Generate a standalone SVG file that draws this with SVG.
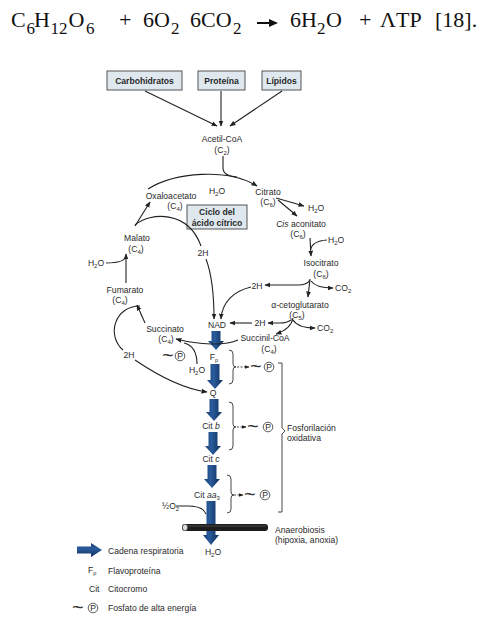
<svg xmlns="http://www.w3.org/2000/svg" width="500" height="637" viewBox="0 0 500 637">
<style>
.eq{font-family:"Liberation Serif",serif;font-size:22px;fill:#111}
.t{font-family:"Liberation Sans",Arial,sans-serif;font-size:8.6px;fill:#2a2a2a}
.m{text-anchor:middle}
.b{font-weight:bold}
.tl{font-family:"Liberation Sans",Arial,sans-serif;font-size:20px;fill:#333}
.box{fill:#dfe8ef;stroke:#555;stroke-width:1}
.c{fill:none;stroke:#222;stroke-width:1.1}
.br{fill:none;stroke:#333;stroke-width:0.9}
.ds{fill:none;stroke:#333;stroke-width:0.9;stroke-dasharray:2,1.5}
.pc{fill:none;stroke:#333;stroke-width:0.8}
.ba{fill:url(#bg)}
</style>
<defs>
<marker id="ah" viewBox="0 0 10 10" refX="9" refY="5" markerWidth="5.5" markerHeight="5.5" orient="auto">
<path d="M0,1 L10,5 L0,9 z" fill="#222"/>
</marker>
<linearGradient id="bg" x1="0" y1="0" x2="1" y2="0">
<stop offset="0" stop-color="#173f78"/>
<stop offset="0.4" stop-color="#2a5c9c"/>
<stop offset="1" stop-color="#0f2d5c"/>
</linearGradient>
<linearGradient id="bgv" x1="0" y1="0" x2="0" y2="1">
<stop offset="0" stop-color="#173f78"/>
<stop offset="0.4" stop-color="#2a5c9c"/>
<stop offset="1" stop-color="#0f2d5c"/>
</linearGradient>
</defs>
<rect width="500" height="637" fill="#fff"/>

<g id="equation">
<text class="eq" y="27"><tspan x="11">C</tspan><tspan x="26.5" y="34" font-size="17">6</tspan><tspan x="34" y="27">H</tspan><tspan x="50.5" y="34" font-size="17">12</tspan><tspan x="68.5" y="27">O</tspan><tspan x="86" y="34" font-size="17">6</tspan><tspan x="119" y="27">+</tspan><tspan x="143">6O</tspan><tspan x="171" y="34" font-size="17">2</tspan><tspan x="190" y="27">6CO</tspan><tspan x="233" y="34" font-size="17">2</tspan><tspan x="290" y="27">6H</tspan><tspan x="317" y="34" font-size="17">2</tspan><tspan x="326" y="27">O</tspan><tspan x="359">+</tspan><tspan x="380">ΛTP</tspan><tspan x="435">[18].</tspan></text>
<path d="M257,23 L271,23" stroke="#111" stroke-width="2"/>
<path d="M269,19 L278,23 L269,27 z" fill="#111"/>
</g>

<g id="carbohidratos"><rect class="box" x="107" y="71" width="75" height="19"/><text class="t b m" x="144.5" y="83.5">Carbohidratos</text></g>
<g id="proteina"><rect class="box" x="198" y="71" width="47" height="19"/><text class="t b m" x="221.5" y="83.5">Proteína</text></g>
<g id="lipidos"><rect class="box" x="262" y="71" width="39" height="19"/><text class="t b m" x="281.5" y="83.5">Lípidos</text></g>

<g id="acetilcoa"><text class="t m" x="222" y="142">Acetil-CoA</text><text class="t m" x="222" y="153">(C<tspan font-size="6" dy="2">2</tspan><tspan dy="-2">)</tspan></text></g>
<g id="ciclo"><rect class="box" x="187" y="205" width="60" height="24"/><text class="t b m" x="217" y="215">Ciclo del</text><text class="t b m" x="217" y="225.5">ácido cítrico</text></g>
<g id="oxaloacetato"><text class="t m" x="171" y="199">Oxaloacetato</text><text class="t m" x="175" y="209">(C<tspan font-size="6" dy="2">4</tspan><tspan dy="-2">)</tspan></text></g>
<g id="h2o-top"><text class="t m" x="217" y="194">H<tspan font-size="6" dy="2">2</tspan><tspan dy="-2">O</tspan></text></g>
<g id="citrato"><text class="t m" x="268" y="195">Citrato</text><text class="t m" x="268" y="205">(C<tspan font-size="6" dy="2">6</tspan><tspan dy="-2">)</tspan></text></g>
<g id="h2o-citrato"><text class="t" x="308" y="211">H<tspan font-size="6" dy="2">2</tspan><tspan dy="-2">O</tspan></text></g>
<g id="cisaconitato"><text class="t m" x="301" y="227"><tspan font-style="italic">Cis</tspan> aconitato</text><text class="t m" x="298" y="237">(C<tspan font-size="6" dy="2">6</tspan><tspan dy="-2">)</tspan></text></g>
<g id="h2o-cis"><text class="t" x="328" y="243">H<tspan font-size="6" dy="2">2</tspan><tspan dy="-2">O</tspan></text></g>
<g id="isocitrato"><text class="t m" x="321" y="266">Isocitrato</text><text class="t m" x="321" y="277">(C<tspan font-size="6" dy="2">6</tspan><tspan dy="-2">)</tspan></text></g>
<g id="2h-iso"><text class="t m" x="257" y="289">2H</text></g>
<g id="co2-iso"><text class="t" x="335" y="291">CO<tspan font-size="6" dy="2">2</tspan></text></g>
<g id="cetoglutarato"><text class="t m" x="300" y="308">α-cetoglutarato</text><text class="t m" x="297" y="318">(C<tspan font-size="6" dy="2">5</tspan><tspan dy="-2">)</tspan></text></g>
<g id="2h-ceto"><text class="t m" x="260" y="326">2H</text></g>
<g id="co2-ceto"><text class="t" x="317" y="331">CO<tspan font-size="6" dy="2">2</tspan></text></g>
<g id="nad"><text class="t m" x="217" y="328">NAD</text></g>
<g id="succinilcoa"><text class="t m" x="265" y="341">Succinil-CoA</text><text class="t m" x="269" y="352">(C<tspan font-size="6" dy="2">4</tspan><tspan dy="-2">)</tspan></text></g>
<g id="succinato"><text class="t m" x="165" y="332">Succinato</text><text class="t m" x="166" y="342">(C<tspan font-size="6" dy="2">4</tspan><tspan dy="-2">)</tspan></text></g>
<g id="p-succ"><text class="tl" x="162" y="362" font-size="14">~</text><circle class="pc" cx="180" cy="356" r="4.8"/><text class="t m" x="180" y="359" font-size="7">P</text></g>
<g id="h2o-succ"><text class="t m" x="197" y="373">H<tspan font-size="6" dy="2">2</tspan><tspan dy="-2">O</tspan></text></g>
<g id="fp"><text class="t m" x="214" y="360">F<tspan font-size="5.5" dy="2">p</tspan></text></g>
<g id="2h-succ"><text class="t m" x="129" y="358">2H</text></g>
<g id="q"><text class="t m" x="213" y="396">Q</text></g>
<g id="malato"><text class="t m" x="137" y="241">Malato</text><text class="t m" x="136" y="252">(C<tspan font-size="6" dy="2">4</tspan><tspan dy="-2">)</tspan></text></g>
<g id="h2o-malato"><text class="t m" x="96" y="266">H<tspan font-size="6" dy="2">2</tspan><tspan dy="-2">O</tspan></text></g>
<g id="fumarato"><text class="t m" x="125" y="293">Fumarato</text><text class="t m" x="120" y="303">(C<tspan font-size="6" dy="2">4</tspan><tspan dy="-2">)</tspan></text></g>
<g id="2h-malato"><text class="t m" x="203" y="256">2H</text></g>
<g id="citb"><text class="t m" x="211" y="429">Cit <tspan font-style="italic">b</tspan></text></g>
<g id="citc"><text class="t m" x="211" y="462">Cit <tspan font-style="italic">c</tspan></text></g>
<g id="citaa3"><text class="t m" x="207" y="498">Cit <tspan font-style="italic">aa</tspan><tspan font-size="6" dy="2">3</tspan></text></g>
<g id="o2"><text class="t" x="162" y="509">½O<tspan font-size="6" dy="2">2</tspan></text></g>
<g id="h2o-final"><text class="t m" x="213" y="555">H<tspan font-size="6" dy="2">2</tspan><tspan dy="-2">O</tspan></text></g>
<g id="anaerobiosis"><text class="t" x="275" y="533">Anaerobiosis</text><text class="t" x="275" y="543">(hipoxia, anoxia)</text></g>
<g id="fosforilacion"><text class="t" x="287" y="431">Fosforilación</text><text class="t" x="287" y="441">oxidativa</text></g>

<g id="respiratory-chain">
<polygon class="ba" points="211.5,331 220.5,331 220.5,341 224,341 216,350 208,341 211.5,341"/>
<polygon class="ba" points="210.5,364 219.5,364 219.5,380 223,380 215,389 207,380 210.5,380"/>
<polygon class="ba" points="209.5,399 218.5,399 218.5,412 222,412 214,421 206,412 209.5,412"/>
<polygon class="ba" points="208.5,432 217.5,432 217.5,446 221,446 213,455 205,446 208.5,446"/>
<polygon class="ba" points="207.5,465 216.5,465 216.5,479 220,479 212,488 204,479 207.5,479"/>
<polygon class="ba" points="206.5,501 215.5,501 215.5,535 219,535 211,545 203,535 206.5,535"/>
</g>
<g id="anaerobiosis-bar">
<rect x="182" y="524" width="86" height="7" rx="3" fill="#1c1c1c"/>
<line x1="186" y1="526" x2="266" y2="526" stroke="#555" stroke-width="0.8"/>
<ellipse cx="185" cy="527.5" rx="2.5" ry="3.2" fill="#ddd" stroke="#444" stroke-width="0.6"/>
</g>

<g id="connectors">
<path class="c" d="M145,91 L217,126" marker-end="url(#ah)"/>
<path class="c" d="M221,91 L221,126" marker-end="url(#ah)"/>
<path class="c" d="M282,91 L230,126" marker-end="url(#ah)"/>
<path class="c" d="M223,156 L223,168 Q223,176 237,177"/>
<path class="c" d="M148,189 C175,172 228,168 257,186" marker-end="url(#ah)"/>
<path class="c" d="M276,198 L304,206" marker-end="url(#ah)"/>
<path class="c" d="M278,200 L297,216" marker-end="url(#ah)"/>
<path class="c" d="M310,238 L311,256" marker-end="url(#ah)"/>
<path class="c" d="M327,240 Q312,241 310.5,250"/>
<path class="c" d="M310,279 L308,297" marker-end="url(#ah)"/>
<path class="c" d="M310,280 Q307,285 298,285 L265,285" marker-end="url(#ah)"/>
<path class="c" d="M311,281 Q316,288 333,288" marker-end="url(#ah)"/>
<path class="c" d="M251,287 C234,291 222,302 221,319" marker-end="url(#ah)"/>
<path class="c" d="M293,318 Q291,329 276,334" marker-end="url(#ah)"/>
<path class="c" d="M291,320 Q287,323 280,323 L268,323" marker-end="url(#ah)"/>
<path class="c" d="M293,320 Q298,328 315,328" marker-end="url(#ah)"/>
<path class="c" d="M252,323 L230,323" marker-end="url(#ah)"/>
<path class="c" d="M135,226 L150,202" marker-end="url(#ah)"/>
<path class="c" d="M135,225 C150,212 188,210 201,246"/>
<path class="c" d="M206,259 C212,275 214,295 214,319" marker-end="url(#ah)"/>
<path class="c" d="M126,283 L126,254" marker-end="url(#ah)"/>
<path class="c" d="M106,263 Q125,263 126,256"/>
<path class="c" d="M145,323 L137,305" marker-end="url(#ah)"/>
<path class="c" d="M140,306 C115,306 106,335 123,350"/>
<path class="c" d="M135,360 C160,377 185,389 207,392" marker-end="url(#ah)"/>
<path class="c" d="M238,340 C225,346 200,345 176,339" marker-end="url(#ah)"/>
<path class="c" d="M197,364 C197,351 192,345 184,343"/>
<path class="c" d="M176,506 L188,506 Q203,506 206,514"/>
</g>

<g id="braces">
<path class="br" d="M229,350 Q233,350 233,354 L233,364 Q233,367 236,367 Q233,367 233,370 L233,380 Q233,384 229,384"/>
<path class="ds" d="M237,367 L249,367" marker-end="url(#ah)"/>
<text class="tl" x="250" y="373">~</text><circle class="pc" cx="269" cy="367" r="4.8"/><text class="t m" x="269" y="370" font-size="7">P</text>
<path class="br" d="M229,402 Q233,402 233,406 L233,424 Q233,427 236,427 Q233,427 233,430 L233,446 Q233,450 229,450"/>
<path class="ds" d="M237,427 L246,427" marker-end="url(#ah)"/>
<text class="tl" x="247" y="433">~</text><circle class="pc" cx="268" cy="427" r="4.8"/><text class="t m" x="268" y="430" font-size="7">P</text>
<path class="br" d="M227,475 Q231,475 231,479 L231,492 Q231,495 234,495 Q231,495 231,498 L231,509 Q231,513 227,513"/>
<path class="ds" d="M234,495 L243,495" marker-end="url(#ah)"/>
<text class="tl" x="244" y="501">~</text><circle class="pc" cx="265" cy="495" r="4.8"/><text class="t m" x="265" y="498" font-size="7">P</text>
<path class="br" d="M278,363 L282,363 L282,428 L285,431 L282,434 L282,512 L278,512"/>
</g>

<g id="legend">
<polygon fill="url(#bgv)" points="77,546.5 91,546.5 91,543 102,550 91,557 91,553.5 77,553.5"/>
<text class="t" x="108" y="554">Cadena respiratoria</text>
<text class="t" x="88" y="573">F<tspan font-size="5.5" dy="2">p</tspan></text>
<text class="t" x="108" y="574">Flavoproteína</text>
<text class="t" x="89" y="592">Cit</text>
<text class="t" x="108" y="592">Citocromo</text>
<text class="tl" x="72" y="614">~</text><circle class="pc" cx="93" cy="608" r="4.8"/><text class="t m" x="93" y="611" font-size="7">P</text>
<text class="t" x="108" y="611">Fosfato de alta energía</text>
</g>
</svg>
